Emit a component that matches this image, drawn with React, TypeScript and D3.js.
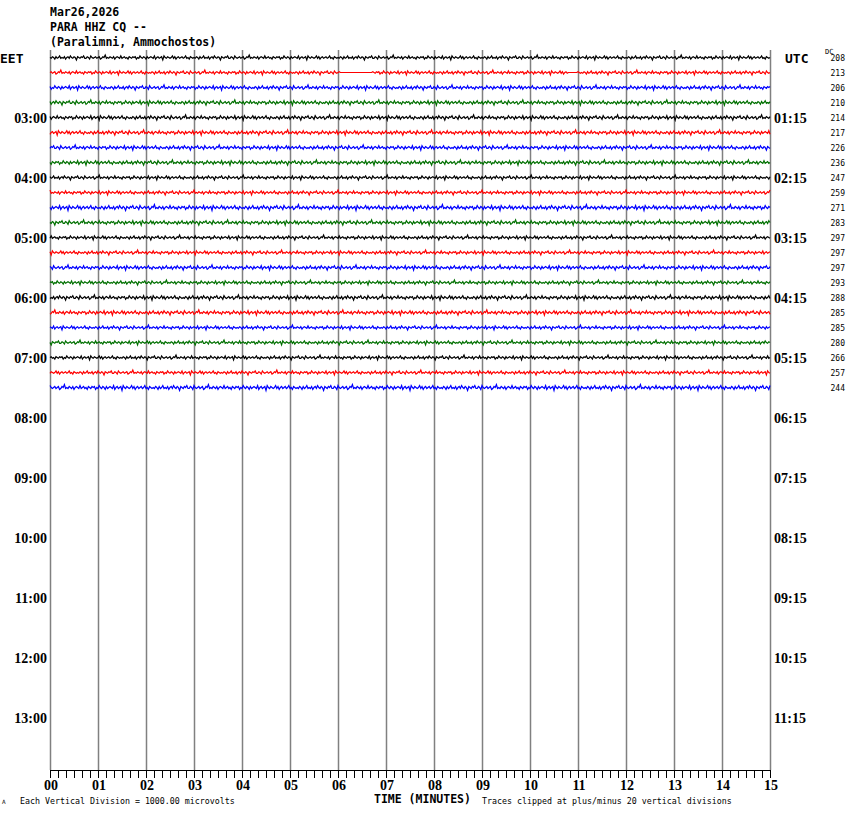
import React, { useEffect, useRef } from 'react';
import * as d3 from 'd3';

// header
const titleLines = ['Mar26,2026', 'PARA HHZ CQ --', '(Paralimni, Ammochostos)'];

// left (EET) and right (UTC) hour labels, by row index (15-minute rows)
const hourRows = [4, 8, 12, 16, 20, 24, 28, 32, 36, 40, 44];
const eetLabels = ['03:00', '04:00', '05:00', '06:00', '07:00', '08:00', '09:00', '10:00', '11:00', '12:00', '13:00'];
const utcLabels = ['01:15', '02:15', '03:15', '04:15', '05:15', '06:15', '07:15', '08:15', '09:15', '10:15', '11:15'];

// DC offset shown at the right of each trace
const dcValues = [208, 213, 206, 210, 214, 217, 226, 236, 247, 259, 271, 283, 297, 297, 297, 293, 288, 285, 285, 280, 266, 257, 244];

// trace colour cycle
const traceColors = ['#000000', '#ff0000', '#0000ff', '#007000'];

// per-row amplitude and where each row enters the wiggle sample
const rowAmp = [0.8, 0.8, 0.9, 0.9, 0.9, 0.9, 0.9, 0.9, 0.8, 0.8, 1.0, 0.9, 0.8, 0.8, 0.9, 0.8, 0.9, 0.9, 0.8, 0.8, 0.8, 0.8, 1.0];
const rowStart = [0, 37, 71, 12, 53, 88, 25, 64, 5, 46, 79, 18, 58, 93, 31, 69, 9, 42, 84, 21, 61, 97, 34];

// hand-read wiggle sample (px), tiled along each trace
const wiggle = [
  0, 1, -1, 0, 2, -1, 1, 0, -2, 1, 0, 1, -1, 2, 0, -1, 1, -2, 0, 1,
  -1, 0, 3, -1, 0, 1, -1, 0, -2, 1, 1, -1, 0, 2, -2, 0, 1, 0, -1, 1,
  0, -1, 2, 1, -1, 0, -3, 1, 0, 1, -1, 0, 1, -1, 2, 0, -1, 0, 1, -2,
  1, 0, -1, 1, 0, 2, -1, 0, 1, -1, 0, -1, 2, 0, 1, -2, 0, 1, -1, 0,
  2, -1, 1, 0, -1, 0, 1, -2, 2, 0, -1, 1, 0, -1, 3, -2, 0, 1, -1, 0,
  1, 0, -2, 1, -1, 2, 0, -1, 1, 0, -1, 1, 0, -2, 1, 0, 2, -1, 0, 1,
];

// flat (missing data) stretches: row, from minute, to minute
const gapRows = [1, 1];
const gapFrom = [6.04, 10.79];
const gapTo = [6.71, 10.98];

// minutes on the time axis
const minuteTicks = d3.range(0, 16);

const W = 850;
const H = 814;
const M = { left: 50, right: 80, top: 50, bottom: 44 };
const NROWS = 48;

const App: React.FC = () => {
  const svgRef = useRef<SVGSVGElement>(null);

  useEffect(() => {
    if (!svgRef.current) return;
    const svg = d3.select(svgRef.current);
    svg.selectAll('*').remove();

    const x = d3.scaleLinear().domain([0, 15]).range([M.left, W - M.right]);
    const y = d3.scaleLinear().domain([0, NROWS]).range([M.top, H - M.bottom]);
    const rowY = (r: number) => y(r + 0.5);
    const mono = 'DejaVu Sans Mono, monospace';
    const serif = 'Liberation Serif, serif';

    // vertical minute grid
    svg.append('g')
      .selectAll('line')
      .data(minuteTicks)
      .enter()
      .append('line')
      .attr('x1', d => x(d) + 0.5)
      .attr('x2', d => x(d) + 0.5)
      .attr('y1', y(0))
      .attr('y2', y(NROWS))
      .attr('stroke', '#808080')
      .attr('stroke-width', 1.5);

    // traces
    const step = 0.025;
    const samples = d3.range(0, 15 + step / 2, step);
    dcValues.forEach((_, r) => {
      const pts = samples.map((t, k) => {
        let v = wiggle[(k + rowStart[r]) % wiggle.length] * rowAmp[r];
        gapRows.forEach((gr, gi) => {
          if (gr === r && t >= gapFrom[gi] && t <= gapTo[gi]) v = 0;
        });
        return [t, v] as [number, number];
      });
      const line = d3.line<[number, number]>()
        .x(d => x(d[0]))
        .y(d => rowY(r) + d[1]);
      svg.append('path')
        .datum(pts)
        .attr('fill', 'none')
        .attr('stroke', traceColors[r % 4])
        .attr('stroke-width', 1.2)
        .attr('d', line);
    });

    // header
    svg.append('g')
      .selectAll('text')
      .data(titleLines)
      .enter()
      .append('text')
      .attr('x', 50)
      .attr('y', (_, i) => 16 + i * 15)
      .attr('font-family', mono)
      .attr('font-size', 11.5)
      .attr('font-weight', 'bold')
      .text(d => d);

    // EET / UTC titles
    svg.append('text').attr('x', 0).attr('y', rowY(0) + 5)
      .attr('font-family', mono).attr('font-size', 13).attr('font-weight', 'bold').text('EET');
    svg.append('text').attr('x', 785).attr('y', rowY(0) + 5)
      .attr('font-family', mono).attr('font-size', 13).attr('font-weight', 'bold').text('UTC');
    svg.append('text').attr('x', 825).attr('y', rowY(0) - 4)
      .attr('font-family', mono).attr('font-size', 7).text('DC');

    svg.append('g')
      .selectAll('text')
      .data(hourRows)
      .enter()
      .append('text')
      .attr('x', 47)
      .attr('y', d => rowY(d) + 5)
      .attr('text-anchor', 'end')
      .attr('font-family', serif)
      .attr('font-size', 14)
      .attr('font-weight', 'bold')
      .text((_, i) => eetLabels[i]);

    svg.append('g')
      .selectAll('text')
      .data(hourRows)
      .enter()
      .append('text')
      .attr('x', 774)
      .attr('y', d => rowY(d) + 5)
      .attr('font-family', serif)
      .attr('font-size', 14)
      .attr('font-weight', 'bold')
      .text((_, i) => utcLabels[i]);

    // DC values
    svg.append('g')
      .selectAll('text')
      .data(dcValues)
      .enter()
      .append('text')
      .attr('x', 845)
      .attr('y', (_, i) => rowY(i) + 3.5)
      .attr('text-anchor', 'end')
      .attr('font-family', mono)
      .attr('font-size', 8)
      .text(d => d);

    // time axis
    const axisY = y(NROWS);
    svg.append('line')
      .attr('x1', x(0)).attr('x2', x(15) + 1)
      .attr('y1', axisY + 0.5).attr('y2', axisY + 0.5)
      .attr('stroke', '#000').attr('stroke-width', 1);
    const minor = d3.range(0, 15 + 1e-6, 1 / 6);
    svg.append('g')
      .selectAll('line')
      .data(minor)
      .enter()
      .append('line')
      .attr('x1', d => Math.round(x(d)) + 0.5)
      .attr('x2', d => Math.round(x(d)) + 0.5)
      .attr('y1', axisY)
      .attr('y2', axisY + 8)
      .attr('stroke', '#000')
      .attr('stroke-width', 1);

    svg.append('g')
      .selectAll('text')
      .data(minuteTicks)
      .enter()
      .append('text')
      .attr('x', d => x(d) + 1)
      .attr('y', axisY + 20)
      .attr('text-anchor', 'middle')
      .attr('font-family', serif)
      .attr('font-size', 14)
      .attr('font-weight', 'bold')
      .text(d => d3.format('02d')(d));

    // footer
    svg.append('text').attr('x', 2).attr('y', 804)
      .attr('font-family', mono).attr('font-size', 6).text('A');
    svg.append('text').attr('x', 20).attr('y', 804)
      .attr('font-family', mono).attr('font-size', 8.3).text('Each Vertical Division = 1000.00 microvolts');
    svg.append('text').attr('x', 374).attr('y', 803)
      .attr('font-family', mono).attr('font-size', 11.5).attr('font-weight', 'bold').text('TIME (MINUTES)');
    svg.append('text').attr('x', 482).attr('y', 804)
      .attr('font-family', mono).attr('font-size', 8.3).text('Traces clipped at plus/minus 20 vertical divisions');
  }, []);

  return (
    <svg
      ref={svgRef}
      width={W}
      height={H}
      style={{ position: 'absolute', left: 0, top: 0, background: '#fff' }}
    />
  );
};

export default App;
